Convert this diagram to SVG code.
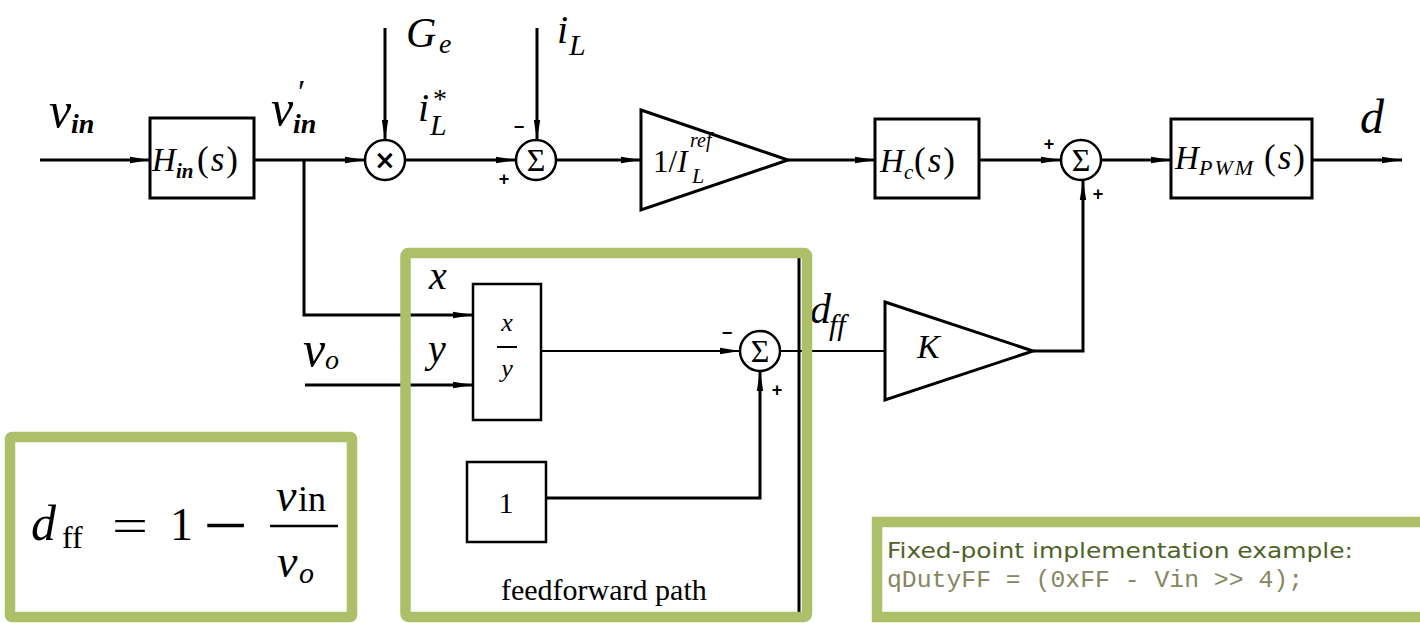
<svg xmlns="http://www.w3.org/2000/svg" width="1420" height="623" viewBox="0 0 1420 623">
<style>
  .blk{fill:#fff;stroke:#000;stroke-width:3}
  .thin{fill:#fff;stroke:#000;stroke-width:2.5}
  .ln{fill:none;stroke:#000;stroke-width:3}
  .lt{fill:none;stroke:#000;stroke-width:2}
  .mi{font-family:"Liberation Serif","DejaVu Serif",serif;font-style:italic;fill:#000}
  .rm{font-family:"Liberation Serif","DejaVu Serif",serif;fill:#000}
  .sg{font-family:"Liberation Sans","DejaVu Sans",sans-serif;font-weight:bold;font-size:18px;fill:#000}
  .grn{fill:none;stroke:#aebf6a;stroke-width:10.5}
</style>
<defs>
  <marker id="ar" markerUnits="userSpaceOnUse" markerWidth="20" markerHeight="8" refX="20" refY="4" orient="auto">
    <path d="M0,0.8 L20,4 L0,7.2 z" fill="#000"/>
  </marker>
</defs>
<rect width="1420" height="623" fill="#fff"/>

<g id="connectors">
  <path class="ln" d="M40,160 H150" marker-end="url(#ar)"/>
  <path class="ln" d="M254,160 H365" marker-end="url(#ar)"/>
  <path class="ln" d="M385,28 V140" marker-end="url(#ar)"/>
  <path class="ln" d="M405,160 H516" marker-end="url(#ar)"/>
  <path class="ln" d="M537,28 V140" marker-end="url(#ar)"/>
  <path class="ln" d="M556,160 H641" marker-end="url(#ar)"/>
  <path class="ln" d="M788,160 H875" marker-end="url(#ar)"/>
  <path class="ln" d="M980,160 H1061" marker-end="url(#ar)"/>
  <path class="ln" d="M1101,160 H1171" marker-end="url(#ar)"/>
  <path class="ln" d="M1312,160 H1402" marker-end="url(#ar)"/>
  <path class="ln" d="M304,160 V315 H473" marker-end="url(#ar)"/>
  <path class="ln" d="M305,385 H473" marker-end="url(#ar)"/>
  <path class="lt" d="M541,351 H740" marker-end="url(#ar)"/>
  <path class="ln" d="M546,498 H760 V371" marker-end="url(#ar)"/>
  <path class="lt" d="M780,351 H885"/>
  <path class="ln" d="M1033,351 H1083 V180" marker-end="url(#ar)"/>
  <path d="M799,258 V612" stroke="#000" stroke-width="3"/>
</g>

<g id="v_in_label">
  <text class="mi" x="49" y="127" font-size="50">v</text>
  <text class="mi" x="71" y="133" font-size="28" font-weight="bold">in</text>
</g>

<g id="H_in">
  <rect class="blk" x="150" y="118" width="104" height="80"/>
  <text class="mi" x="152" y="171" font-size="33">H</text>
  <text class="mi" x="176" y="178" font-size="21" font-weight="bold">in</text>
  <text class="mi" x="197" y="171" font-size="35" letter-spacing="2"><tspan font-style="normal">(</tspan>s<tspan font-style="normal">)</tspan></text>
</g>

<g id="v_in_prime_label">
  <text class="mi" x="271" y="125" font-size="50">v</text>
  <text class="rm" x="298" y="103" font-size="34">′</text>
  <text class="mi" x="293" y="133" font-size="28" font-weight="bold">in</text>
</g>

<g id="multiplier">
  <circle class="thin" cx="385" cy="160" r="20"/>
  <text x="385" y="169" font-family="'DejaVu Sans',sans-serif" font-size="26" font-weight="bold" text-anchor="middle">×</text>
  <text class="mi" x="406" y="47" font-size="42">G</text>
  <text class="mi" x="439" y="53" font-size="28">e</text>
</g>

<g id="iL_star_label">
  <text class="mi" x="418" y="121" font-size="40">i</text>
  <text class="rm" x="433" y="108" font-size="28">*</text>
  <text class="mi" x="430" y="135" font-size="30">L</text>
</g>

<g id="sum1">
  <circle class="thin" cx="536" cy="160" r="20"/>
  <text class="rm" x="536" y="171" font-size="32" text-anchor="middle">Σ</text>
  <text class="sg" x="519" y="133" text-anchor="middle">−</text>
  <text class="sg" x="504" y="185" text-anchor="middle">+</text>
  <text class="mi" x="557" y="43" font-size="40">i</text>
  <text class="mi" x="569" y="55" font-size="30">L</text>
</g>

<g id="gain_ref">
  <path class="blk" d="M641,110 L788,160 L641,210 Z"/>
  <text class="rm" x="653" y="172" font-size="31">1/<tspan font-style="italic">I</tspan></text>
  <text class="mi" x="690" y="147" font-size="20">ref</text>
  <text class="mi" x="692" y="183" font-size="22">L</text>
</g>

<g id="H_c">
  <rect class="blk" x="875" y="119" width="104" height="79"/>
  <text class="mi" x="880" y="172" font-size="33">H</text>
  <text class="mi" x="904" y="179" font-size="21">c</text>
  <text class="mi" x="914" y="172" font-size="35" letter-spacing="2"><tspan font-style="normal">(</tspan>s<tspan font-style="normal">)</tspan></text>
</g>

<g id="sum2">
  <circle class="thin" cx="1081" cy="160" r="20"/>
  <text class="rm" x="1081" y="171" font-size="32" text-anchor="middle">Σ</text>
  <text class="sg" x="1049" y="150" text-anchor="middle">+</text>
  <text class="sg" x="1098" y="200" text-anchor="middle">+</text>
</g>

<g id="H_PWM">
  <rect class="blk" x="1171" y="119" width="141" height="79"/>
  <text class="mi" x="1175" y="169" font-size="33">H</text>
  <text class="mi" x="1199" y="175" font-size="22" letter-spacing="2">PWM</text>
  <text class="mi" x="1264" y="169" font-size="35" letter-spacing="2"><tspan font-style="normal">(</tspan>s<tspan font-style="normal">)</tspan></text>
</g>

<g id="d_label">
  <text class="mi" x="1360" y="133" font-size="48">d</text>
</g>

<g id="divider">
  <rect class="thin" x="473" y="284" width="68" height="136"/>
  <text class="mi" x="507" y="331" font-size="26" text-anchor="middle">x</text>
  <line x1="497" y1="347" x2="517" y2="347" stroke="#000" stroke-width="2"/>
  <text class="mi" x="507" y="377" font-size="26" text-anchor="middle">y</text>
  <text class="mi" x="429" y="289" font-size="40">x</text>
  <text class="mi" x="428" y="362" font-size="40">y</text>
</g>

<g id="v_o_label">
  <text class="mi" x="303" y="366" font-size="50">v</text>
  <text class="mi" x="325" y="369" font-size="28">o</text>
</g>

<g id="one_block">
  <rect class="thin" x="467" y="462" width="79" height="80"/>
  <text class="rm" x="506" y="513" font-size="30" text-anchor="middle">1</text>
</g>

<g id="sum3">
  <circle class="thin" cx="760" cy="351" r="20"/>
  <text class="rm" x="760" y="362" font-size="32" text-anchor="middle">Σ</text>
  <text class="sg" x="727" y="339" text-anchor="middle">−</text>
  <text class="sg" x="777" y="396" text-anchor="middle">+</text>
</g>

<g id="dff_label">
  <text class="mi" x="810" y="323" font-size="42">d</text>
  <text class="mi" x="829" y="335" font-size="30">ff</text>
</g>

<g id="gain_K">
  <path class="blk" d="M885,302 L1033,351 L885,400 Z"/>
  <text class="mi" x="917" y="358" font-size="34">K</text>
</g>

<g id="feedforward_path">
  <text class="rm" x="501" y="600" font-size="30">feedforward path</text>
  <rect class="grn" x="405.5" y="253" width="401.5" height="364" rx="3"/>
</g>

<g id="formula_box">
  <rect class="grn" x="10" y="437" width="342" height="180" rx="2"/>
  <text class="mi" x="31" y="540" font-size="50">d</text>
  <text class="rm" x="62" y="548" font-size="32">ff</text>
  <text class="rm" x="112" y="541" font-size="46" textLength="36" lengthAdjust="spacingAndGlyphs">=</text>
  <text class="rm" x="170" y="540" font-size="46">1</text>
  <text class="rm" x="203" y="542" font-size="50" font-weight="bold" textLength="45" lengthAdjust="spacingAndGlyphs">−</text>
  <line x1="270" y1="526" x2="338" y2="526" stroke="#000" stroke-width="2.5"/>
  <text class="mi" x="276" y="511" font-size="46">v</text>
  <text class="rm" x="298" y="511" font-size="36">in</text>
  <text class="mi" x="277" y="577" font-size="46">v</text>
  <text class="mi" x="299" y="583" font-size="30">o</text>
</g>

<g id="code_box">
  <rect class="grn" x="877" y="522" width="600" height="95"/>
  <text x="887" y="558" font-family="'DejaVu Sans','Liberation Sans',sans-serif" font-size="21" fill="#4f6228" textLength="466" lengthAdjust="spacingAndGlyphs">Fixed-point implementation example:</text>
  <text x="887" y="587" font-family="'Liberation Mono','DejaVu Sans Mono',monospace" font-size="24.5" fill="#86865f" textLength="416" lengthAdjust="spacingAndGlyphs">qDutyFF = (0xFF - Vin &gt;&gt; 4);</text>
</g>
</svg>
